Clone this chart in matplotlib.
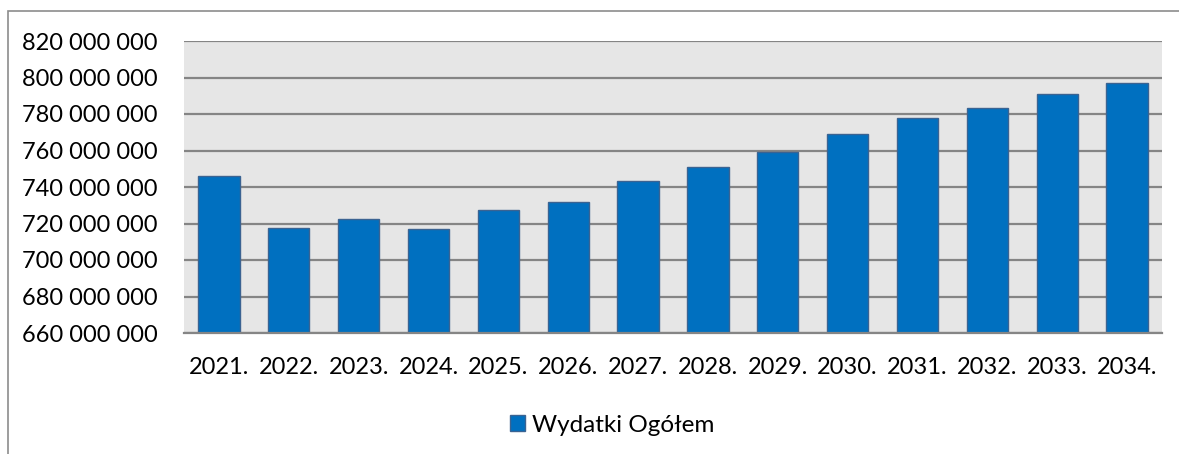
import matplotlib
matplotlib.use("Agg")
import matplotlib.pyplot as plt
from matplotlib.patches import Rectangle
from matplotlib.ticker import FuncFormatter

years = ["2021.", "2022.", "2023.", "2024.", "2025.", "2026.", "2027.",
         "2028.", "2029.", "2030.", "2031.", "2032.", "2033.", "2034."]
wydatki = [746.0e6, 717.5e6, 722.5e6, 717.0e6, 727.4e6, 731.8e6, 743.3e6,
           751.0e6, 759.2e6, 769.0e6, 777.8e6, 783.3e6, 791.0e6, 797.0e6]

plt.rcParams['font.family'] = ['Lato', 'DejaVu Sans']

W, H = 1179, 454
fig = plt.figure(figsize=(W / 100, H / 100), dpi=100)

# outer chart border (runs off the right/bottom edge)
fig.patches.append(Rectangle((8 / W, -0.1), 1.2, 1 - 11 / H + 0.1,
                             transform=fig.transFigure, fill=False,
                             edgecolor="#8c8c8c", linewidth=1.2))

ax = fig.add_axes([184 / W, 1 - 333 / H, (1162 - 184) / W, (333 - 41) / H])
ax.set_facecolor("#e6e6e6")

x = range(len(years))
ax.bar(x, wydatki, width=0.59, color="#0070c0", edgecolor="#3b6392",
       linewidth=1.0, label="Wydatki Ogółem", zorder=3)

ax.set_xlim(-0.5, len(years) - 0.5)
ax.set_ylim(660e6, 820e6)
ax.set_yticks(range(660000000, 820000001, 20000000))
ax.yaxis.set_major_formatter(FuncFormatter(lambda v, p: f"{int(v):,}".replace(",", " ")))
ax.set_xticks(list(x))
ax.set_xticklabels(years)

ax.grid(axis="y", color="#858585", linewidth=1.6, zorder=1)
ax.set_axisbelow(True)
for s in ["left", "right", "top"]:
    ax.spines[s].set_visible(False)
ax.spines["bottom"].set_color("#858585")
ax.spines["bottom"].set_linewidth(1.6)
ax.spines["bottom"].set_zorder(4)

ax.tick_params(axis="y", length=0, pad=19, labelsize=17)
ax.tick_params(axis="x", length=0, pad=17, labelsize=17)

fig.legend(loc="center", bbox_to_anchor=(612 / W, 1 - 425 / H), frameon=False,
           fontsize=17.5, handlelength=0.62, handleheight=0.62,
           handletextpad=0.3)

fig.savefig("out.png", dpi=100)
